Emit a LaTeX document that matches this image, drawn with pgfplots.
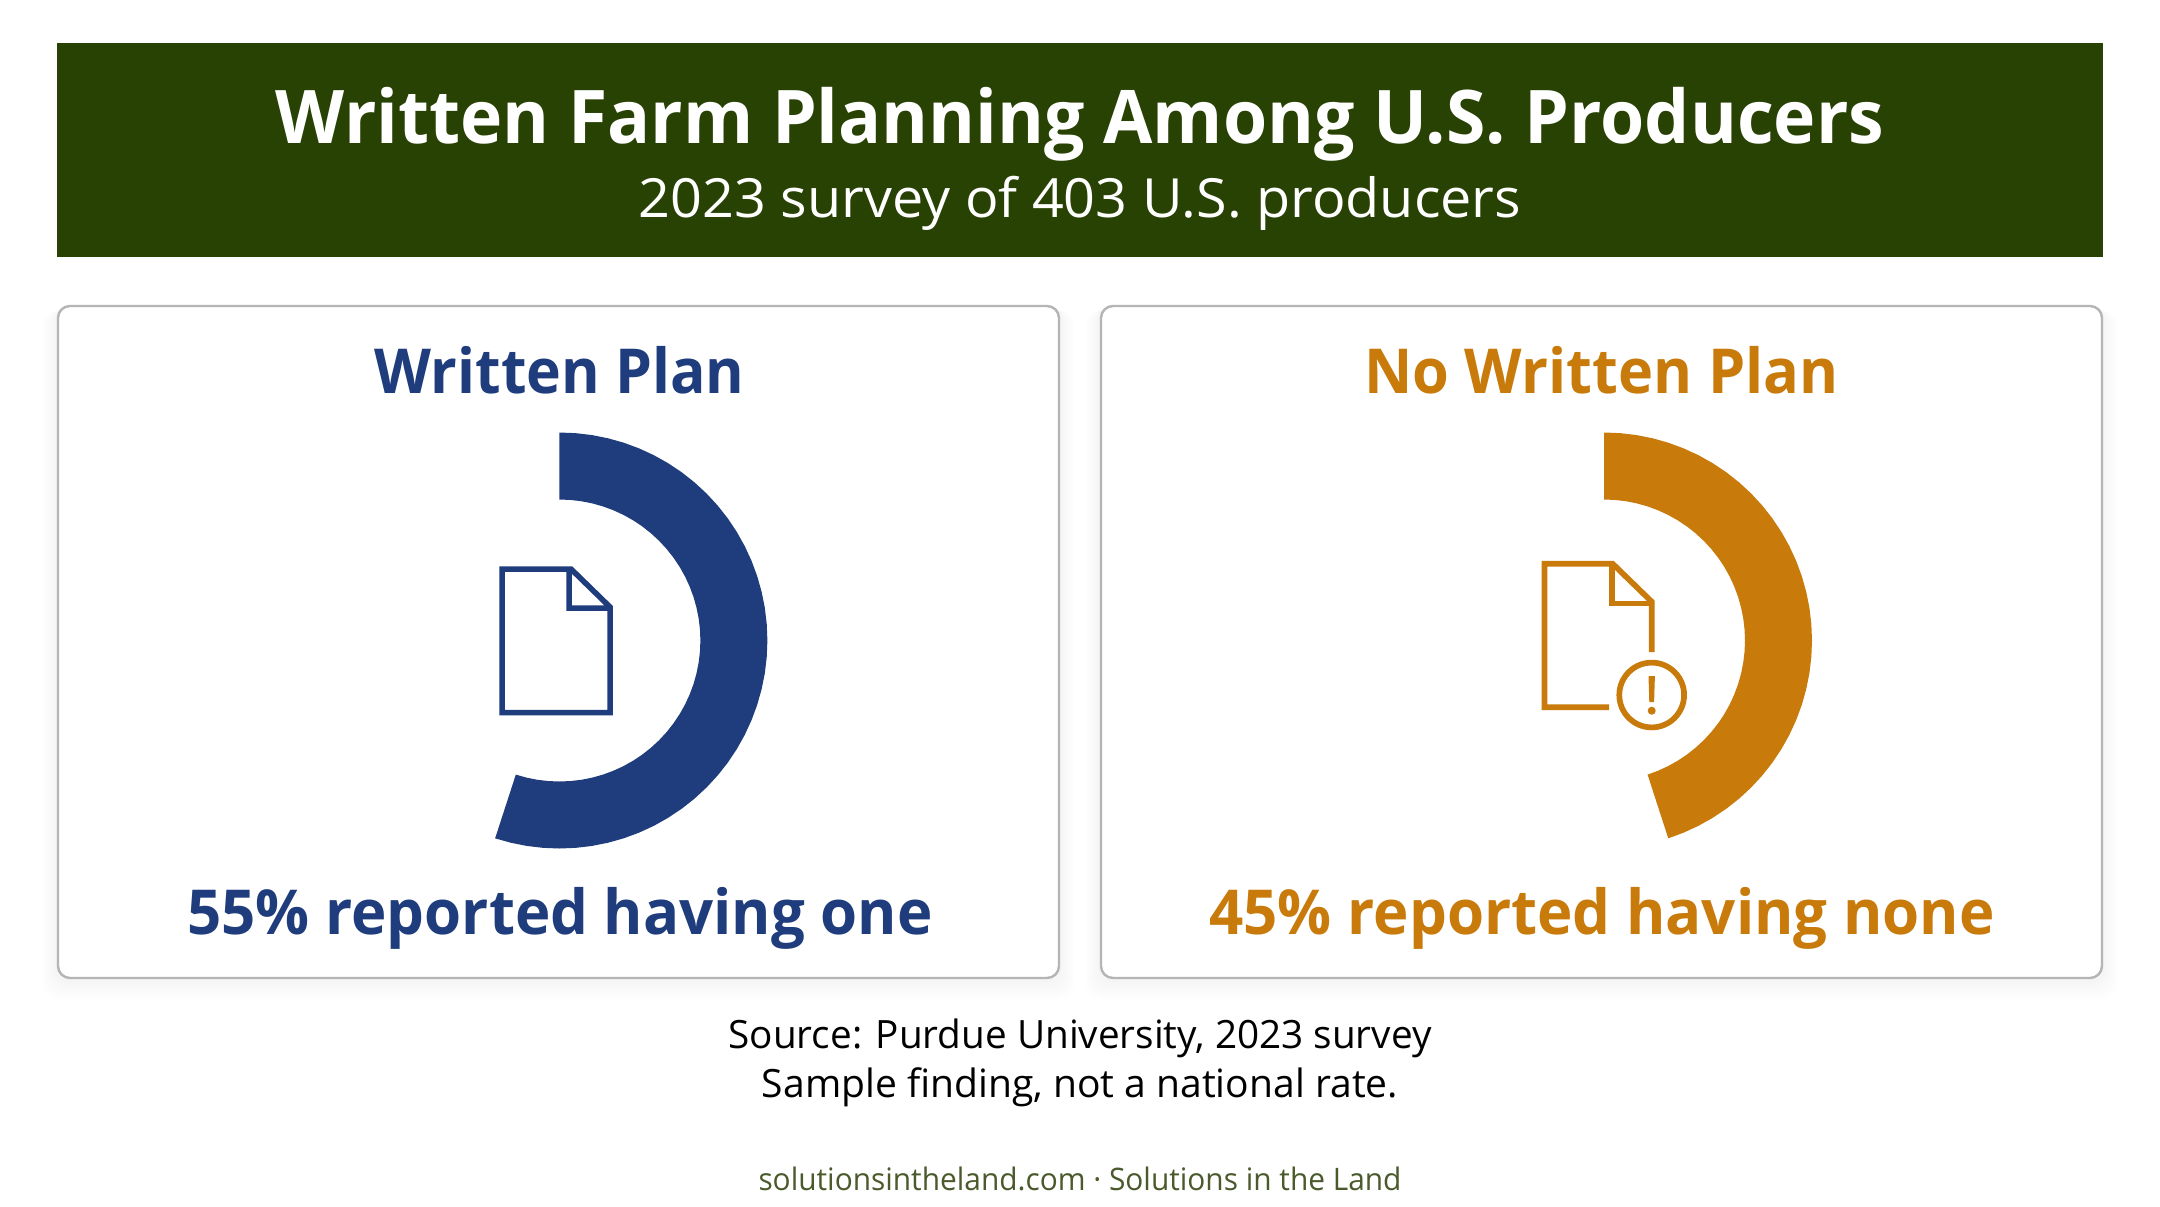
\documentclass[border=0pt]{standalone}
\usepackage{fontspec}
\usepackage{graphicx}
\usepackage{pgfplots}
\pgfplotsset{compat=1.18}
\setmainfont{Open Sans}
\definecolor{hdr}{HTML}{284204}
\definecolor{blu}{HTML}{1F3D7C}
\definecolor{org}{HTML}{C87A0A}
\definecolor{foot}{HTML}{4B5A2C}
% txt: x, baseline y (pixels), width in pt, size in pt, colour/weight, text
\newcommand{\txt}[6]{\node[anchor=base,inner sep=0pt,outer sep=0pt,text=#5] at (#1,#2) {\resizebox{#3pt}{\height}{\fontsize{#4}{#4}\selectfont #6}};}
\newcommand{\card}[2]{%
  \foreach \g in {22,20,...,2}{\fill[black,opacity=0.004,rounded corners=8pt] (#1-\g*0.7,306+\g*0.2) rectangle (#2+\g*0.7,978+\g);}
  \draw[draw=black!29,fill=white,line width=1.2pt,rounded corners=6pt] (#1,306) rectangle (#2,978);
}
\pgfplotsset{donut/.style={hide axis,scale only axis,width=220pt,height=220pt,xmin=-220,xmax=220,ymin=-220,ymax=220,clip=false}}
\begin{document}
\begin{tikzpicture}
\useasboundingbox (0,0) rectangle (1080pt,-603pt);
\fill[white] (0,0) rectangle (1080pt,-603pt);
\begin{scope}[x=0.5pt,y=-0.5pt]
  \fill[hdr] (57,43) rectangle (2103,257);
  \card{58}{1059}
  \card{1101}{2102}
  \txt{1080}{143}{804}{37}{white}{\bfseries Written Farm Planning Among U.S. Producers}
  \txt{1080}{217}{441}{27}{white}{2023 survey of 403 U.S. producers}
  \txt{559.5}{393}{185}{31}{blu}{\bfseries Written Plan}
  \txt{1601.5}{393}{237}{31}{org}{\bfseries No Written Plan}
  \txt{560}{934}{372.5}{31}{blu}{\bfseries 55\% reported having one}
  \txt{1602}{934}{392.5}{31}{org}{\bfseries 45\% reported having none}
  \txt{1080}{1048}{351.5}{19.5}{black}{Source: Purdue University, 2023 survey}
  \txt{1080}{1097}{318}{19.5}{black}{Sample finding, not a national rate.}
  \txt{1080}{1190}{321.5}{15.5}{foot}{solutionsintheland.com · Solutions in the Land}
  % document icon, written plan
  \draw[blu,line width=2.75pt,miter limit=10,line join=miter]
    (502,569) -- (571,569) -- (610,607) -- (610,712.5) -- (502,712.5) -- cycle
    (569,569) -- (569,608) -- (610,608);
  % document icon with warning, no written plan
  \draw[org,line width=2.85pt,line join=miter]
    (1609,707.3) -- (1544.5,707.3) -- (1544.5,563.8) -- (1612.7,563.8) -- (1651.7,601.7) -- (1651.7,652);
  \draw[org,line width=2.85pt,line join=miter] (1611.7,563.8) -- (1611.7,603.5) -- (1651.7,603.5);
  \draw[org,line width=2.85pt] (1651.7,695) circle (16.2pt);
  \fill[org] (1648.5,676) -- (1654.9,676) -- (1654.1,702) -- (1649.3,702) -- cycle;
  \fill[org] (1651.7,710.7) circle (2pt);
\end{scope}
% Written Plan: 55% of the ring = 198 degrees clockwise from the top
\begin{axis}[donut,at={(279.7pt,-320.25pt)},anchor=center]
\addplot[blu,fill=blu,draw=none,data cs=polar,no markers] coordinates {
(90,208)(85.5,208)(81,208)(76.5,208)(72,208)(67.5,208)(63,208)(58.5,208)(54,208)(49.5,208)
(45,208)(40.5,208)(36,208)(31.5,208)(27,208)(22.5,208)(18,208)(13.5,208)(9,208)(4.5,208)
(0,208)(-4.5,208)(-9,208)(-13.5,208)(-18,208)(-22.5,208)(-27,208)(-31.5,208)(-36,208)(-40.5,208)
(-45,208)(-49.5,208)(-54,208)(-58.5,208)(-63,208)(-67.5,208)(-72,208)(-76.5,208)(-81,208)(-85.5,208)
(-90,208)(-94.5,208)(-99,208)(-103.5,208)(-108,208)
(-108,141)(-103.5,141)(-99,141)(-94.5,141)(-90,141)
(-85.5,141)(-81,141)(-76.5,141)(-72,141)(-67.5,141)(-63,141)(-58.5,141)(-54,141)(-49.5,141)(-45,141)
(-40.5,141)(-36,141)(-31.5,141)(-27,141)(-22.5,141)(-18,141)(-13.5,141)(-9,141)(-4.5,141)(0,141)
(4.5,141)(9,141)(13.5,141)(18,141)(22.5,141)(27,141)(31.5,141)(36,141)(40.5,141)(45,141)
(49.5,141)(54,141)(58.5,141)(63,141)(67.5,141)(72,141)(76.5,141)(81,141)(85.5,141)(90,141)} -- cycle;
\end{axis}
% No Written Plan: 45% of the ring = 162 degrees clockwise from the top
\begin{axis}[donut,at={(802pt,-320.25pt)},anchor=center]
\addplot[org,fill=org,draw=none,data cs=polar,no markers] coordinates {
(90,208)(85.5,208)(81,208)(76.5,208)(72,208)(67.5,208)(63,208)(58.5,208)(54,208)(49.5,208)
(45,208)(40.5,208)(36,208)(31.5,208)(27,208)(22.5,208)(18,208)(13.5,208)(9,208)(4.5,208)
(0,208)(-4.5,208)(-9,208)(-13.5,208)(-18,208)(-22.5,208)(-27,208)(-31.5,208)(-36,208)(-40.5,208)
(-45,208)(-49.5,208)(-54,208)(-58.5,208)(-63,208)(-67.5,208)(-72,208)
(-72,141)(-67.5,141)(-63,141)(-58.5,141)(-54,141)(-49.5,141)(-45,141)
(-40.5,141)(-36,141)(-31.5,141)(-27,141)(-22.5,141)(-18,141)(-13.5,141)(-9,141)(-4.5,141)(0,141)
(4.5,141)(9,141)(13.5,141)(18,141)(22.5,141)(27,141)(31.5,141)(36,141)(40.5,141)(45,141)
(49.5,141)(54,141)(58.5,141)(63,141)(67.5,141)(72,141)(76.5,141)(81,141)(85.5,141)(90,141)} -- cycle;
\end{axis}
\end{tikzpicture}
\end{document}
